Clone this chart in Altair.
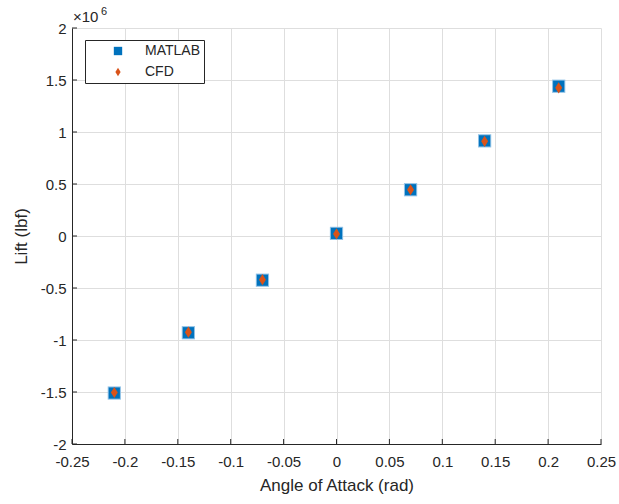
import altair as alt
import pandas as pd

# ---- data ----
aoa = [-0.21, -0.14, -0.07, 0.0, 0.07, 0.14, 0.21]          # rad
lift_matlab = [-1.510e6, -0.930e6, -0.425e6, 0.025e6, 0.445e6, 0.915e6, 1.440e6]
lift_cfd = [-1.505e6, -0.925e6, -0.420e6, 0.020e6, 0.445e6, 0.910e6, 1.425e6]
series = ["MATLAB", "CFD"]
x_ticks = [-0.25, -0.2, -0.15, -0.1, -0.05, 0.0, 0.05, 0.1, 0.15, 0.2, 0.25]
y_ticks = [-2e6, -1.5e6, -1e6, -0.5e6, 0.0, 0.5e6, 1e6, 1.5e6, 2e6]

W, H = 529, 416
DARK = "#262626"
GRID = "#dedede"
FONT = "Liberation Sans"

rows = [{"aoa": a, "lift": l, "series": "MATLAB"} for a, l in zip(aoa, lift_matlab)]
rows += [{"aoa": a, "lift": l, "series": "CFD"} for a, l in zip(aoa, lift_cfd)]
df = pd.DataFrame(rows)
df_m = df[df.series == "MATLAB"]
df_x = pd.DataFrame({"t": x_ticks})
df_y = pd.DataFrame({"t": y_ticks})

xscale = alt.Scale(domain=[-0.25, 0.25], nice=False, zero=False)
yscale = alt.Scale(domain=[-2e6, 2e6], nice=False, zero=False)

xaxis = alt.Axis(
    values=x_ticks, grid=True, gridColor=GRID, ticks=False,
    domainColor=DARK, labelColor=DARK, labelFontSize=15, labelFont=FONT,
    labelPadding=10, title="Angle of Attack (rad)", titleFontSize=17,
    titleFont=FONT, titleColor=DARK, titleFontWeight="normal", titlePadding=8,
    labelExpr="'' + round(datum.value*100)/100", labelFlush=False, labelOverlap=False,
)
yaxis = alt.Axis(
    values=y_ticks, grid=True, gridColor=GRID, ticks=False,
    domainColor=DARK, labelColor=DARK, labelFontSize=15, labelFont=FONT,
    labelPadding=6, title="Lift (lbf)", titleFontSize=17, titleFont=FONT,
    titleColor=DARK, titleFontWeight="normal", titlePadding=10,
    labelExpr="'' + round(datum.value/1e5)/10", labelFlush=False, labelOverlap=False,
)

diamond = "M0,-1L0.62,0L0,1L-0.62,0Z"

rim = alt.Chart(df_m).mark_point(
    shape="square", filled=True, size=175, color="#8fc1e6", opacity=1
).encode(
    x=alt.X("aoa:Q", scale=xscale, axis=xaxis),
    y=alt.Y("lift:Q", scale=yscale, axis=yaxis),
)

pts = alt.Chart(df).mark_point(filled=True, size=125, opacity=1).encode(
    x=alt.X("aoa:Q", scale=xscale),
    y=alt.Y("lift:Q", scale=yscale),
    color=alt.Color(
        "series:N",
        scale=alt.Scale(domain=series, range=["#0072BD", "#D95319"]),
        legend=alt.Legend(title=None, labelExpr="datum.label + '     '"),
        sort=series,
    ),
    shape=alt.Shape(
        "series:N",
        scale=alt.Scale(domain=series, range=["square", diamond]),
        legend=alt.Legend(title=None, labelExpr="datum.label + '     '"),
        sort=series,
    ),
    order=alt.Order("order:Q"),
).transform_calculate(order="datum.series == 'MATLAB' ? 0 : 1")

xt = alt.Chart(df_x).mark_rule(color=DARK, strokeWidth=1).encode(
    x=alt.X("t:Q", scale=xscale), y=alt.value(H), y2=alt.value(H - 5)
)
yt = alt.Chart(df_y).mark_rule(color=DARK, strokeWidth=1).encode(
    y=alt.Y("t:Q", scale=yscale), x=alt.value(0), x2=alt.value(5)
)

exp_base = alt.Chart(pd.DataFrame({"a": [0]})).mark_text(
    align="left", baseline="alphabetic", font=FONT, fontSize=15, color=DARK
).encode(x=alt.value(1), y=alt.value(-6), text=alt.value("×10"))
exp_sup = alt.Chart(pd.DataFrame({"a": [0]})).mark_text(
    align="left", baseline="alphabetic", font=FONT, fontSize=11, color=DARK
).encode(x=alt.value(29), y=alt.value(-13), text=alt.value("6"))

chart = alt.layer(rim, xt, yt, pts, exp_base, exp_sup).resolve_scale(
    color="shared", shape="shared"
).properties(
    width=W, height=H,
    autosize=alt.AutoSizeParams(type="none"),
    padding={"left": 72, "top": 28, "right": 18, "bottom": 60},
    background="white",
).configure_view(stroke=None).configure_legend(
    orient="none", legendX=13, legendY=12,
    strokeColor=DARK, fillColor="white", padding=4,
    symbolOffset=22, labelOffset=20, labelFontSize=14, labelFont=FONT,
    labelColor=DARK, symbolSize=70, rowPadding=7, cornerRadius=0,
    symbolStrokeWidth=0,
)

chart.save("out.html", embed_options={"renderer": "svg", "actions": False})
